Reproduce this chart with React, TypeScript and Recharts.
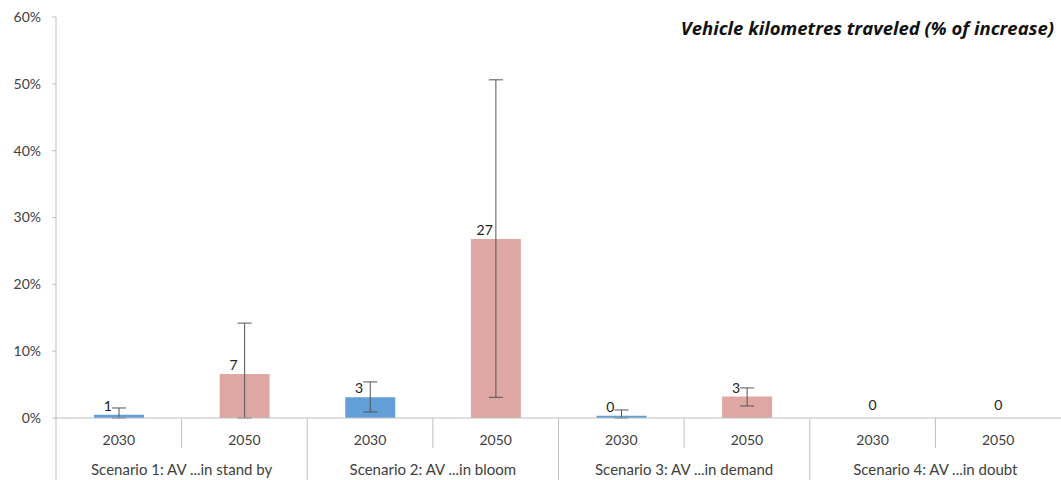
import { ComposedChart, Bar, Line, XAxis, YAxis, Cell, ErrorBar, LabelList } from 'recharts';

const scenarios = [
  'Scenario 1: AV ...in stand by',
  'Scenario 2: AV ...in bloom',
  'Scenario 3: AV ...in demand',
  'Scenario 4: AV ...in doubt',
];
const years = ['2030', '2050', '2030', '2050', '2030', '2050', '2030', '2050'];
const values = [0.5, 6.6, 3.1, 26.8, 0.35, 3.2, 0, 0];
const errLow = [0, 0, 0.9, 3.1, 0, 1.8, null, null];
const errHigh = [1.5, 14.2, 5.4, 50.6, 1.2, 4.5, null, null];
const yTicks = [0, 10, 20, 30, 40, 50, 60];

const W = 1061;
const H = 480;
const LEFT = 56;
const XAXIS_H = 62;
const band = (W - LEFT) / years.length;
const FONT = 'Lato, "Open Sans", sans-serif';
const GRID = '#bfbfbf';
const TEXT = '#404040';
const BLUE = '#629fd9';
const PINK = '#dea7a4';

const data = years.map((year, i) => ({
  key: String(i),
  year,
  value: values[i],
  err: errLow[i] == null ? null : [values[i] - (errLow[i] as number), (errHigh[i] as number) - values[i]],
}));

const XTick = (props: any) => {
  const { x, y, index } = props;
  const left = x - band / 2;
  const sceneStart = index % 2 === 0;
  return (
    <g>
      <line x1={left} x2={left} y1={y} y2={sceneStart ? H : y + 30} stroke={GRID} />
      <text x={x} y={y + 27} textAnchor="middle" fill={TEXT} fontSize={14} fontFamily={FONT}>
        {years[index]}
      </text>
      {sceneStart && (
        <text x={x + band / 2} y={y + 57} textAnchor="middle" fill={TEXT} fontSize={15} fontFamily={FONT}>
          {scenarios[index / 2]}
        </text>
      )}
    </g>
  );
};

// labels ride on an invisible line so zero-height bars still get one
const ValueLabel = (props: any) => {
  const { x, y, value, index } = props;
  const hasErr = errLow[index] != null;
  return (
    <text
      x={x + (hasErr ? -11 : 0)}
      y={y - (hasErr ? 4 : 8)}
      textAnchor="middle"
      fill="#222"
      fontSize={14}
      fontFamily={FONT}
    >
      {Math.round(value)}
    </text>
  );
};

export default function App() {
  return (
    <div style={{ position: 'absolute', left: 0, top: 0, width: W, height: H, background: '#fff' }}>
      <ComposedChart width={W} height={H} data={data} margin={{ top: 17, right: 0, bottom: 0, left: 0 }}>
        <XAxis
          dataKey="key"
          height={XAXIS_H}
          axisLine={{ stroke: GRID }}
          tickLine={false}
          tickSize={0}
          tickMargin={0}
          interval={0}
          tick={<XTick />}
        />
        <YAxis
          width={LEFT}
          domain={[0, 60]}
          ticks={yTicks}
          tickFormatter={(v: number) => `${v}%`}
          axisLine={{ stroke: GRID }}
          tickLine={{ stroke: GRID }}
          tickSize={4}
          tickMargin={11}
          tick={{ fill: TEXT, fontSize: 14, fontFamily: FONT }}
        />
        <Bar dataKey="value" barSize={50} isAnimationActive={false}>
          {data.map((d, i) => (
            <Cell key={i} fill={d.year === '2030' ? BLUE : PINK} />
          ))}
          <ErrorBar dataKey="err" width={7} stroke="#555" strokeWidth={1} />
        </Bar>
        <Line dataKey="value" stroke="none" dot={false} activeDot={false} isAnimationActive={false}>
          <LabelList dataKey="value" content={<ValueLabel />} />
        </Line>
      </ComposedChart>
      <div
        style={{
          position: 'absolute',
          right: 7,
          top: 16,
          fontFamily: '"Open Sans", sans-serif',
          fontWeight: 700,
          fontStyle: 'italic',
          fontSize: 18.5,
          lineHeight: '24px',
          color: '#111',
          whiteSpace: 'nowrap',
        }}
      >
        Vehicle kilometres traveled (% of increase)
      </div>
    </div>
  );
}
